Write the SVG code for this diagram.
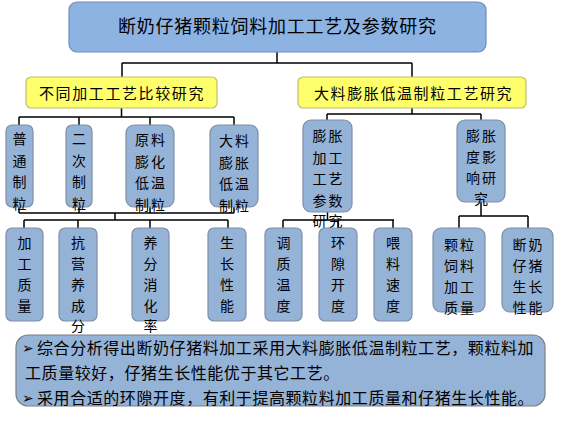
<svg xmlns="http://www.w3.org/2000/svg" width="585" height="430" viewBox="0 0 585 430">
<style>
.top{fill:#8DB3E2;stroke:#6F8CB5;stroke-width:1.2}
.yel{fill:#FFFF6B;stroke:#BDBD70;stroke-width:1.2}
.box{fill:#95B3D7;stroke:#7F8FA6;stroke-width:1.2}
.sum{fill:#95B3D7;stroke:#7A7F8A;stroke-width:1.2}
.ln{fill:none;stroke:#000;stroke-width:1.5}
text{font-family:"Noto Sans CJK SC","Noto Sans",sans-serif;fill:#000}
.tt{font-size:18px;letter-spacing:0.75px}
.yt{font-size:15px;letter-spacing:1.6px}
.bt{font-size:14px;letter-spacing:2px;text-anchor:middle}
.st{font-size:16px;letter-spacing:0.57px}
.ar{font-family:"DejaVu Sans",sans-serif;font-size:14px}
</style>
<rect width="585" height="430" fill="#fff"/>
<g id="connectors">
<path class="ln" d="M277,52V63M122,63H412M122,63V77M412,63V77"/>
<path class="ln" d="M121.5,108V117M19,117H234M19,117V125M79,117V125M150,117V125M234,117V125"/>
<path class="ln" d="M19,207V213M79,207V213M150,207V213M234,207V213M19,213H234M115,213V220M24,220H228M24,220V228M78,220V228M150,220V228M228,220V228"/>
<path class="ln" d="M412,108V114M327,114H481M327,114V120M481,114V120"/>
<path class="ln" d="M327.5,212V220M283,220H394M283,220V228M338,220V228M393,220V228"/>
<path class="ln" d="M481,202V216M459,216H528M459,216V228M528,216V228"/>
</g>
<g id="n-title">
<rect class="top" x="69" y="2" width="417" height="50" rx="8"/>
<text class="tt" x="118" y="33">断奶仔猪颗粒饲料加工工艺及参数研究</text>
</g>
<g id="n-compare">
<rect class="yel" x="26" y="77" width="191" height="31" rx="5"/>
<text class="yt" x="39" y="98.5">不同加工工艺比较研究</text>
</g>
<g id="n-expand">
<rect class="yel" x="298" y="77" width="228" height="31" rx="5"/>
<text class="yt" x="314" y="98.5">大料膨胀低温制粒工艺研究</text>
</g>
<g id="n-pt">
<rect class="box" x="6" y="125" width="27" height="82" rx="6"/>
<text class="bt"><tspan x="20.5" y="144">普</tspan><tspan x="20.5" y="165.5">通</tspan><tspan x="20.5" y="187">制</tspan><tspan x="20.5" y="208.5">粒</tspan></text>
</g>
<g id="n-ec">
<rect class="box" x="66" y="125" width="26" height="82" rx="6"/>
<text class="bt"><tspan x="80" y="144">二</tspan><tspan x="80" y="165.5">次</tspan><tspan x="80" y="187">制</tspan><tspan x="80" y="208.5">粒</tspan></text>
</g>
<g id="n-yl">
<rect class="box" x="126" y="125" width="48" height="82" rx="8"/>
<text class="bt"><tspan x="151" y="145">原料</tspan><tspan x="151" y="166.5">膨化</tspan><tspan x="151" y="188">低温</tspan><tspan x="151" y="209.5">制粒</tspan></text>
</g>
<g id="n-dl">
<rect class="box" x="210" y="125" width="48" height="82" rx="8"/>
<text class="bt"><tspan x="235" y="146">大料</tspan><tspan x="235" y="167.5">膨胀</tspan><tspan x="235" y="189">低温</tspan><tspan x="235" y="210.5">制粒</tspan></text>
</g>
<g id="n-pzcs">
<rect class="box" x="303" y="120" width="49" height="92" rx="8"/>
<text class="bt"><tspan x="328.5" y="141">膨胀</tspan><tspan x="328.5" y="162.5">加工</tspan><tspan x="328.5" y="184">工艺</tspan><tspan x="328.5" y="205.5">参数</tspan><tspan x="328.5" y="226">研究</tspan></text>
</g>
<g id="n-pzd">
<rect class="box" x="457" y="120" width="48" height="82" rx="8"/>
<text class="bt"><tspan x="482" y="141">膨胀</tspan><tspan x="482" y="162">度影</tspan><tspan x="482" y="183">响研</tspan><tspan x="482" y="204">究</tspan></text>
</g>
<g id="n-jgzl">
<rect class="box" x="6" y="228" width="37" height="93" rx="6"/>
<text class="bt"><tspan x="25.5" y="248">加</tspan><tspan x="25.5" y="269">工</tspan><tspan x="25.5" y="290">质</tspan><tspan x="25.5" y="310.5">量</tspan></text>
</g>
<g id="n-kyy">
<rect class="box" x="59" y="228" width="38" height="93" rx="6"/>
<text class="bt"><tspan x="79" y="248">抗</tspan><tspan x="79" y="269">营</tspan><tspan x="79" y="290">养</tspan><tspan x="79" y="310.5">成</tspan><tspan x="79" y="331">分</tspan></text>
</g>
<g id="n-yfxh">
<rect class="box" x="132" y="228" width="37" height="93" rx="6"/>
<text class="bt"><tspan x="151.5" y="248">养</tspan><tspan x="151.5" y="269">分</tspan><tspan x="151.5" y="290">消</tspan><tspan x="151.5" y="310.5">化</tspan><tspan x="151.5" y="331">率</tspan></text>
</g>
<g id="n-szxn">
<rect class="box" x="208" y="228" width="38" height="93" rx="6"/>
<text class="bt"><tspan x="228" y="248">生</tspan><tspan x="228" y="269">长</tspan><tspan x="228" y="290">性</tspan><tspan x="228" y="310.5">能</tspan></text>
</g>
<g id="n-tzwd">
<rect class="box" x="265" y="228" width="37" height="93" rx="6"/>
<text class="bt"><tspan x="284.5" y="248">调</tspan><tspan x="284.5" y="269">质</tspan><tspan x="284.5" y="290">温</tspan><tspan x="284.5" y="310.5">度</tspan></text>
</g>
<g id="n-hxkd">
<rect class="box" x="319" y="228" width="38" height="93" rx="6"/>
<text class="bt"><tspan x="339" y="248">环</tspan><tspan x="339" y="269">隙</tspan><tspan x="339" y="290">开</tspan><tspan x="339" y="310.5">度</tspan></text>
</g>
<g id="n-wlsd">
<rect class="box" x="374" y="228" width="38" height="93" rx="6"/>
<text class="bt"><tspan x="394" y="248">喂</tspan><tspan x="394" y="269">料</tspan><tspan x="394" y="290">速</tspan><tspan x="394" y="310.5">度</tspan></text>
</g>
<g id="n-klzl">
<rect class="box" x="433" y="228" width="52" height="84" rx="8"/>
<text class="bt"><tspan x="460" y="249.5">颗粒</tspan><tspan x="460" y="270.5">饲料</tspan><tspan x="460" y="291.5">加工</tspan><tspan x="460" y="312.5">质量</tspan></text>
</g>
<g id="n-dnsz">
<rect class="box" x="502" y="228" width="51" height="84" rx="8"/>
<text class="bt"><tspan x="528.5" y="249.5">断奶</tspan><tspan x="528.5" y="270.5">仔猪</tspan><tspan x="528.5" y="291.5">生长</tspan><tspan x="528.5" y="312.5">性能</tspan></text>
</g>
<g id="n-summary">
<rect class="sum" x="16" y="335" width="529" height="71" rx="12"/>
<text class="st"><tspan class="ar" x="22" y="353">➢</tspan><tspan x="37" y="354">综合分析得出断奶仔猪料加工采用大料膨胀低温制粒工艺，颗粒料加</tspan><tspan x="25" y="379">工质量较好，仔猪生长性能优于其它工艺。</tspan><tspan class="ar" x="22" y="403">➢</tspan><tspan x="37" y="404">采用合适的环隙开度，有利于提高颗粒料加工质量和仔猪生长性能。</tspan></text>
</g>
</svg>
